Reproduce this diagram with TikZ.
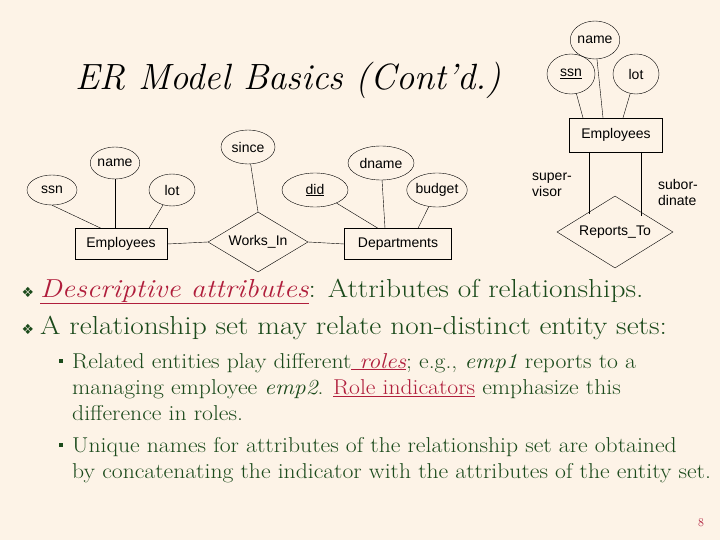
\documentclass[tikz,border=0pt]{standalone}
\usepackage{fontspec}
\usetikzlibrary{shapes.geometric}
\newfontfamily\diag{Liberation Sans}
\newfontfamily\dejav{DejaVu Sans}
\definecolor{bg}{HTML}{FDF3E7}
\definecolor{tg}{HTML}{1B4A1B}
\definecolor{tr}{HTML}{B01E3C}
\begin{document}
\begin{tikzpicture}[x=1pt,y=-1pt,
  attr/.style={draw,ellipse,inner sep=0pt,font=\diag\fontsize{14}{16}\selectfont},
  ent/.style={draw,rectangle,inner sep=3pt,font=\diag\fontsize{14}{16}\selectfont},
  rel/.style={draw,diamond,aspect=1.7,inner sep=0pt,font=\diag\fontsize{14}{16}\selectfont},
  lab/.style={align=left,inner sep=0pt,font=\diag\fontsize{14}{16}\selectfont},
  body/.style={anchor=base west,inner sep=0pt,text=tg,xscale=1.13,transform shape,font=\fontsize{26}{29}\selectfont},
  sub/.style={anchor=base west,inner sep=0pt,text=tg,xscale=1.1,transform shape,font=\fontsize{21.5}{24}\selectfont},
  sq/.style={fill=tg,minimum size=4.5pt,inner sep=0pt},
  bul/.style={anchor=base,inner sep=0pt,text=tg,font=\dejav\fontsize{14}{16}\selectfont}]
\fill[bg] (0,0) rectangle (720,540);
\useasboundingbox (0,0) rectangle (720,540);
% title
\node[anchor=base west,inner sep=0pt,font=\itshape\fontsize{36.5}{40}\selectfont] (title) at (75,90) {ER Model Basics (Cont'd.)};
% left diagram
\node[attr,minimum width=50,minimum height=30] (ssn) at (52,190) {ssn};
\node[attr,minimum width=48,minimum height=32] (name) at (115,163) {name};
\node[attr,minimum width=46,minimum height=32] (lot) at (172,190) {lot};
\node[ent,minimum width=92,minimum height=31] (emp) at (121,244) {Employees};
\node[rel,minimum width=100,minimum height=60] (wi) at (258,242) {Works\_In};
\node[attr,minimum width=54,minimum height=34] (since) at (248,147) {since};
\node[ent,minimum width=107,minimum height=31] (dep) at (398,244) {Departments};
\node[attr,minimum width=66,minimum height=34] (did) at (315,190) {\underline{did}};
\node[attr,minimum width=66,minimum height=34] (dname) at (381,163) {dname};
\node[attr,minimum width=60,minimum height=34] (budget) at (437,190) {budget};
\draw (ssn.south) -- ([xshift=-20]emp.north);
\draw (name) -- (name|-emp.north);
\draw (lot) -- ([xshift=28]emp.north);
\draw (emp.east) -- (wi.west);
\draw (wi.east) -- (dep.west);
\draw (since) -- (wi.north);
\draw (did) -- ([xshift=-20]dep.north);
\draw (dname) -- ([xshift=-13]dep.north);
\draw (budget) -- ([xshift=20]dep.north);
% right diagram
\node[attr,minimum width=48,minimum height=40] (ssn2) at (571,74) {\underline{ssn}};
\node[attr,minimum width=44,minimum height=38] (name2) at (595,40) {name};
\node[attr,minimum width=46,minimum height=40] (lot2) at (636,74) {lot};
\node[ent,minimum width=93,minimum height=34] (emp2) at (616,135) {Employees};
\node[rel,minimum width=116,minimum height=72] (rt) at (615,232) {Reports\_To};
\draw (ssn2) -- ([xshift=-33]emp2.north);
\draw (name2) -- ([xshift=-13]emp2.north);
\draw (lot2) -- ([xshift=7]emp2.north);
\coordinate (s1) at (589,152);
\coordinate (s2) at (641,152);
\draw (s1) -- (589,214.5);
\draw (s2) -- (641,216.5);
\node[lab] (sup) at (552,185) {super-\\visor};
\node[lab] (sub) at (678,192) {subor-\\dinate};
% text
\node[bul] (b1) at (28,297) {❖};
\node[bul] (b2) at (28,334) {❖};
\node[body] (t1) at (40,297) {\textcolor{tr}{\underline{\itshape Descriptive attributes}}: Attributes of relationships.};
\node[body] (t2) at (40,334) {A relationship set may relate non-distinct entity sets:};
\node[sq] (sq1) at (61,361) {};
\node[sq] (sq2) at (61,445) {};
\node[sub] (l1) at (72,368) {Related entities play different\textcolor{tr}{\underline{\itshape\ roles}}; e.g., \textit{emp1} reports to a};
\node[sub] (l2) at (72,394) {managing employee \textit{emp2}. \textcolor{tr}{\underline{Role indicators}} emphasize this};
\node[sub] (l3) at (72,420) {difference in roles.};
\node[sub] (l4) at (72,452) {Unique names for attributes of the relationship set are obtained};
\node[sub] (l5) at (72,478) {by concatenating the indicator with the attributes of the entity set.};
\node[anchor=base,inner sep=0pt,text=tr,font=\fontsize{12}{14}\selectfont] (pg) at (701,526) {8};
\end{tikzpicture}
\end{document}
